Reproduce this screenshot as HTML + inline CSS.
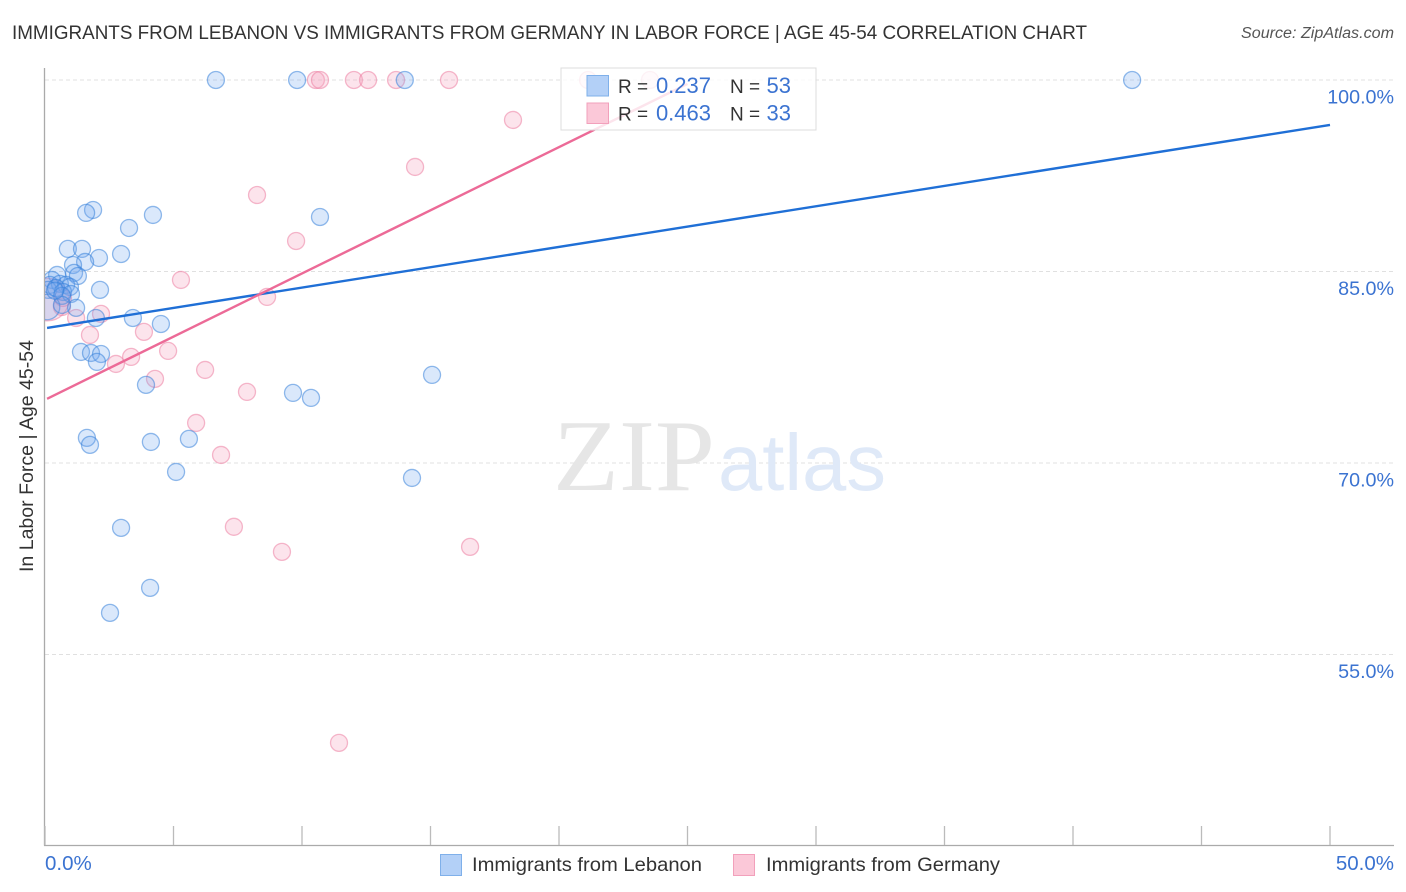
<!DOCTYPE html>
<html lang="en">
<head>
<meta charset="utf-8">
<title>Immigrants from Lebanon vs Immigrants from Germany correlation chart</title>
<style>
html,body{margin:0;padding:0;background:#fff;}
#chart{display:block;width:1406px;height:892px;font-family:"Liberation Sans",sans-serif;}
</style>
</head>
<body>
<svg id="chart" xmlns="http://www.w3.org/2000/svg" width="1406" height="892" viewBox="0 0 1406 892">
  <defs><clipPath id="plot-clip"><rect x="45" y="60" width="1349" height="785"/></clipPath></defs>
  <text x="12" y="39" font-size="19.5" fill="#333" textLength="1075" lengthAdjust="spacingAndGlyphs">IMMIGRANTS FROM LEBANON VS IMMIGRANTS FROM GERMANY IN LABOR FORCE | AGE 45-54 CORRELATION CHART</text>
  <text x="1241" y="38" font-size="15.5" font-style="italic" fill="#555" textLength="153" lengthAdjust="spacingAndGlyphs">Source: ZipAtlas.com</text>
  <g id="grid"></g>
  <g>
    <text x="553" y="490" font-family="'Liberation Serif',serif" font-size="102" fill="#e6e6e6" textLength="162" lengthAdjust="spacingAndGlyphs">ZIP</text>
    <text x="718" y="490" font-size="80" fill="#dfe9f8" textLength="168" lengthAdjust="spacingAndGlyphs">atlas</text>
  </g>
  <g id="axes"></g>
  <text transform="translate(33,456) rotate(-90)" font-size="19" fill="#333" text-anchor="middle" textLength="232" lengthAdjust="spacingAndGlyphs">In Labor Force | Age 45-54</text>
  <g id="marks" clip-path="url(#plot-clip)"></g>
  <g id="trends"></g>
  <g>
    <rect x="561" y="68" width="255" height="62" fill="#fff" fill-opacity="0.82" stroke="#dcdcdc" stroke-width="1"/>
    <rect x="587" y="75.5" width="21.5" height="20.5" fill="#b3d0f7" stroke="#7fb0ea" stroke-width="1"/>
    <rect x="587" y="103" width="21.5" height="20.5" fill="#fbc8d8" stroke="#f2a0bb" stroke-width="1"/>
    <text x="618" y="93" font-size="19" fill="#333">R =</text>
    <text x="711" y="93" font-size="22" fill="#3b73d1" text-anchor="end">0.237</text>
    <text x="730" y="93" font-size="19" fill="#333">N =</text>
    <text x="791" y="93" font-size="22" fill="#3b73d1" text-anchor="end">53</text>
    <text x="618" y="120.500" font-size="19" fill="#333">R =</text>
    <text x="711" y="120.500" font-size="22" fill="#3b73d1" text-anchor="end">0.463</text>
    <text x="730" y="120.500" font-size="19" fill="#333">N =</text>
    <text x="791" y="120.500" font-size="22" fill="#3b73d1" text-anchor="end">33</text>
  </g>
  <g>
    <rect x="440.500" y="854.500" width="21" height="21" fill="#b3d0f7" stroke="#7fb0ea"/>
    <text x="472" y="871" font-size="19.500" fill="#333" textLength="230" lengthAdjust="spacingAndGlyphs">Immigrants from Lebanon</text>
    <rect x="733.500" y="854.500" width="21" height="21" fill="#fbc8d8" stroke="#f2a0bb"/>
    <text x="766" y="871" font-size="19.500" fill="#333" textLength="234" lengthAdjust="spacingAndGlyphs">Immigrants from Germany</text>
  </g>
</svg>
<script>
const yTickValues = [100, 85, 70, 55];
const yTickLabels = ["100.0%", "85.0%", "70.0%", "55.0%"];
const xTickValues = [0, 5, 10, 15, 20, 25, 30, 35, 40, 45, 50];
const xEdgeValues = [0, 50];
const xEdgeLabels = ["0.0%", "50.0%"];

const lebanonX = [6.65,9.81,14.0,42.3,1.87,1.60,4.20,10.70,3.27,0.89,1.44,2.96,2.10,1.56,1.09,1.13,1.28,0.47,0.27,0.19,0.58,0.82,0.97,0.12,0.43,0.70,1.01,2.14,0.66,1.21,0.08,0.66,1.98,3.42,4.51,1.40,1.79,2.18,2.02,15.06,3.93,9.65,10.35,1.63,1.75,4.12,5.60,5.10,14.28,2.96,4.09,2.53,0.39];
const lebanonY = [100,100,100,100,89.82,89.59,89.43,89.27,88.41,86.77,86.77,86.37,86.06,85.75,85.51,84.89,84.65,84.73,84.34,83.95,84.03,83.95,83.79,83.56,83.71,83.40,83.24,83.56,83.09,82.15,82.22,82.38,81.36,81.36,80.89,78.70,78.62,78.54,77.92,76.90,76.12,75.49,75.10,71.97,71.42,71.65,71.89,69.30,68.83,64.92,60.22,58.26,83.50];
const lebanonSize = [1,1,1,1,1,1,1,1,1,1,1,1,1,1,1,1,1,1,1,1,1,1,1,1,1,1,1,1,1,1,1.5,1,1,1,1,1,1,1,1,1,1,1,1,1,1,1,1,1,1,1,1,1,1];

const germanyX = [10.54,10.70,12.02,12.57,13.66,15.72,21.13,23.54,18.21,14.40,8.25,9.77,5.29,8.64,0.66,0.10,1.21,2.18,1.75,3.85,4.79,3.35,2.76,6.23,4.28,7.86,5.88,6.85,7.35,9.22,16.54,11.44,0.70];
const germanyY = [100,100,100,100,100,100,100,100,96.87,93.19,90.99,87.39,84.34,83.01,82.22,82.80,81.36,81.68,80.03,80.27,78.78,78.31,77.76,77.29,76.59,75.57,73.14,70.63,65.00,63.04,63.43,48.08,82.93];
const germanySize = [1,1,1,1,1,1,1,1,1,1,1,1,1,1,1,2.5,1,1,1,1,1,1,1,1,1,1,1,1,1,1,1,1,1];

const lebanonTrendX = [0.08, 50];
const lebanonTrendY = [80.58, 96.48];
const germanyTrendX = [0.08, 25.0];
const germanyTrendY = [75.03, 99.69];

const NS = "http://www.w3.org/2000/svg";
function xScale(v) { return 45 + (v / 50) * 1285; }
function yScale(v) { return 80 + (100 - v) * (191.5 / 15); }

function make(tag, attrs, parent, text) {
  const el = document.createElementNS(NS, tag);
  for (const k in attrs) el.setAttribute(k, attrs[k]);
  if (text !== undefined) el.textContent = text;
  parent.appendChild(el);
  return el;
}

const gridG = document.getElementById("grid");
const axesG = document.getElementById("axes");
const marksG = document.getElementById("marks");
const trendsG = document.getElementById("trends");

yTickValues.forEach(function (v, i) {
  const line = make("line", {x1: 45, x2: 1394, y1: yScale(v), y2: yScale(v), stroke: "#e0e0e0", "stroke-width": 1, "stroke-dasharray": "4 3"}, gridG);
  
  
  const label = make("text", {x: 1394, y: yScale(v) + 23.5, "font-size": 19.7, fill: "#3b73d1", "text-anchor": "end"}, axesG, yTickLabels[i]);
  
  
});

const yAxis = make("line", {x1: 44.5, x2: 44.5, y1: 68, y2: 845.5, stroke: "#aaa", "stroke-width": 1.3}, axesG);


const xAxis = make("line", {x1: 44, x2: 1394, y1: 845.5, y2: 845.5, stroke: "#aaa", "stroke-width": 1.3}, axesG);



xTickValues.forEach(function (v) {
  const tick = make("line", {x1: xScale(v), x2: xScale(v), y1: 826, y2: 845, stroke: "#bbb", "stroke-width": 1.3}, axesG);
  
  
});

xEdgeValues.forEach(function (v, i) {
  const label = make("text", {x: i === 0 ? 45 : 1394, y: 870, "font-size": 20.5, fill: "#3b73d1", "text-anchor": i === 0 ? "start" : "end"}, axesG, xEdgeLabels[i]);
  
  
});

germanyX.forEach(function (v, i) {
  const dot = make("circle", {cx: xScale(v), cy: yScale(germanyY[i]), r: 8.5 * germanySize[i], fill: "#f6a5c0", "fill-opacity": 0.3, stroke: "#ec7fa3", "stroke-opacity": 0.55, "stroke-width": 1.3}, marksG);
  
  
});

lebanonX.forEach(function (v, i) {
  const dot = make("circle", {cx: xScale(v), cy: yScale(lebanonY[i]), r: 8.5 * lebanonSize[i], fill: "#6fa8f0", "fill-opacity": 0.26, stroke: "#2f7cd8", "stroke-opacity": 0.52, "stroke-width": 1.3}, marksG);
  
  
});

const blueTrend = make("line", {x1: xScale(lebanonTrendX[0]), y1: yScale(lebanonTrendY[0]), x2: xScale(lebanonTrendX[1]), y2: yScale(lebanonTrendY[1]), stroke: "#1f6fd6", "stroke-width": 2.4}, trendsG);


const pinkTrend = make("line", {x1: xScale(germanyTrendX[0]), y1: yScale(germanyTrendY[0]), x2: xScale(germanyTrendX[1]), y2: yScale(germanyTrendY[1]), stroke: "#ec6a97", "stroke-width": 2.4}, trendsG);


</script>
</body>
</html>
